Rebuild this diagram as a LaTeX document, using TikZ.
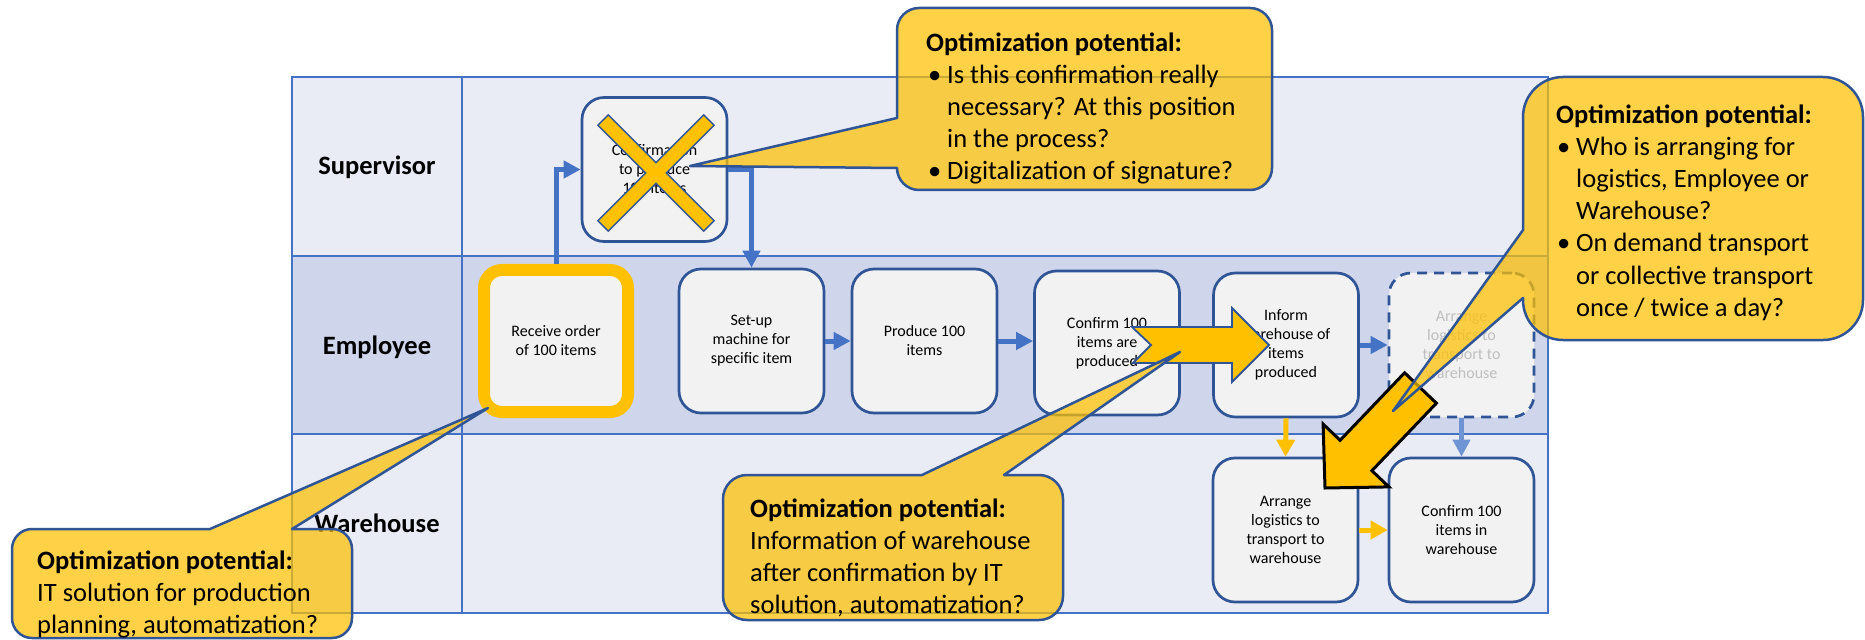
\documentclass[tikz,border=0pt]{standalone}
\usepackage{fontspec}
\setmainfont{Carlito}
\usetikzlibrary{arrows.meta}
\definecolor{lanelight}{HTML}{E9EBF5}
\definecolor{lanedark}{HTML}{CFD5EA}
\definecolor{laneline}{HTML}{4472C4}
\definecolor{boxline}{HTML}{2F5597}
\definecolor{boxfill}{HTML}{F2F2F2}
\definecolor{gold}{HTML}{FFC000}
\definecolor{ghostblue}{HTML}{6F94D3}
\definecolor{ghosttext}{HTML}{BFBFBF}
\begin{document}
\begin{tikzpicture}[x=1bp,y=-1bp,
  lane/.style={draw=laneline, line width=2.5bp},
  lanelabel/.style={font=\fontsize{26.5bp}{32bp}\selectfont\bfseries, anchor=base, inner sep=0},
  proc/.style={draw=boxline, line width=2.7bp, fill=boxfill, rounded corners=22bp,
    minimum width=145bp, minimum height=144bp, align=center, inner sep=2bp,
    font=\fontsize{16bp}{19bp}\selectfont},
  recvbox/.style={proc, draw=gold, line width=12bp, minimum width=144bp, minimum height=142bp, rounded corners=18bp},
  ghostbox/.style={proc, dash pattern=on 10bp off 7bp, text=ghosttext},
  bluearrow/.style={draw=laneline, line width=5bp, -{Triangle[length=17bp,width=17bp]}},
  ghostarrow/.style={draw=ghostblue, line width=5bp, -{Triangle[length=17bp,width=17bp]}},
  yarrow/.style={draw=gold, line width=5bp, -{Triangle[length=17bp,width=18bp]}},
  xbar/.style={minimum width=148bp, minimum height=13bp, inner sep=0, draw=boxline, line width=3bp, fill=gold},
  xfill/.style={minimum width=148bp, minimum height=13bp, inner sep=0, fill=gold},
  bigarrow/.style={fill=gold, draw=boxline, line width=1.8bp, line join=miter},
  diagarrow/.style={fill=gold, draw=black, line width=3bp, line join=miter},
  callout/.style={draw=boxline, line width=2.5bp, fill=gold, fill opacity=0.72, line join=round},
  ctext/.style={anchor=base west, inner sep=0, font=\fontsize{26.5bp}{32bp}\selectfont},
  ctitle/.style={ctext, font=\fontsize{26.5bp}{32bp}\selectfont\bfseries}
]
\useasboundingbox (0,0) rectangle (1865,640);
\fill[white] (0,0) rectangle (1865,640);

% swimlane table
\fill[lanelight] (292,77) rectangle (1548,256);
\fill[lanedark] (292,256) rectangle (1548,434);
\fill[lanelight] (292,434) rectangle (1548,613);
\draw[lane] (292,77) rectangle (1548,613);
\draw[lane] (292,256) -- (1548,256);
\draw[lane] (292,434) -- (1548,434);
\draw[lane] (462,77) -- (462,613);

\node[lanelabel] (lsup) at (377,175) {Supervisor};
\node[lanelabel] (lemp) at (377,354) {Employee};
\node[lanelabel] (lwh) at (377,532) {Warehouse};

% process boxes
\node[proc] (conf) at (654.5,169.5) {Confirmation\\to produce\\100 items};
\node[recvbox] (recv) at (556,341) {Receive order\\of 100 items};
\node[proc] (setup) at (751.5,341) {Set-up\\machine for\\specific item};
\node[proc] (prod) at (924.5,341) {Produce 100\\items};
\node[proc] (cprod) at (1107,343) {Confirm 100\\items are\\produced};
\node[proc] (inform) at (1286,345) {Inform\\warehouse of\\items\\produced};
\node[ghostbox] (ghost) at (1461.5,345) {Arrange\\logistics to\\transport to\\warehouse};
\node[proc] (arrwh) at (1285.5,530) {Arrange\\logistics to\\transport to\\warehouse};
\node[proc] (confwh) at (1461.5,530) {Confirm 100\\items in\\warehouse};

% connectors
\draw[bluearrow] (recv.north) |- (conf.west);
\draw[bluearrow] (conf.east) -| (setup.north);
\draw[bluearrow] (setup.east) -- (prod.west);
\draw[bluearrow] (prod.east) -- (prod.east -| cprod.west);
\draw[bluearrow] (inform.east) -- (ghost.west);
\draw[yarrow] (inform.south) -- (arrwh.north);
\draw[ghostarrow] (ghost.south) -- (confwh.north);
\draw[yarrow] (arrwh.east) -- (confwh.west);

% cross over confirmation
\node[xbar, rotate=45] (xa) at (656,173) {};
\node[xbar, rotate=-45] (xb) at (656,173) {};
\node[xfill, rotate=45] (xc) at (656,173) {};
\node[xfill, rotate=-45] (xd) at (656,173) {};

% big block arrows
\draw[bigarrow] (1132,327) -- (1232,327) -- (1232,308) -- (1269,345) -- (1232,382)
  -- (1232,363) -- (1133,363) -- (1151,345) -- cycle;
\draw[diagarrow] (1404.6,372.8) -- (1340.1,440.3) -- (1323.1,424.1) -- (1325,488)
  -- (1388.9,486.9) -- (1371.9,470.7) -- (1436.4,403.2) -- cycle;

% callouts
\draw[callout] (690,166) -- (897,118) -- (897,30)
  .. controls (897,17.9) and (906.9,8) .. (919,8) -- (1250,8)
  .. controls (1262.1,8) and (1272,17.9) .. (1272,30) -- (1272,168)
  .. controls (1272,180.1) and (1262.1,190) .. (1250,190) -- (919,190)
  .. controls (906.9,190) and (897,180.1) .. (897,168) -- cycle;
\draw[callout] (1393,411) -- (1523,230) -- (1523,117)
  .. controls (1523,94.9) and (1540.9,77) .. (1563,77) -- (1823,77)
  .. controls (1845.1,77) and (1863,94.9) .. (1863,117) -- (1863,300)
  .. controls (1863,322.1) and (1845.1,340) .. (1823,340) -- (1563,340)
  .. controls (1540.9,340) and (1523,322.1) .. (1523,300) -- (1523,298) -- cycle;
\draw[callout] (488,408) -- (292,529) -- (332,529)
  .. controls (343,529) and (352,538) .. (352,549) -- (352,618)
  .. controls (352,629) and (343,638) .. (332,638) -- (32,638)
  .. controls (21,638) and (12,629) .. (12,618) -- (12,549)
  .. controls (12,538) and (21,529) .. (32,529) -- (210,529) -- cycle;
\draw[callout] (1180,352) -- (1004,475) -- (1039,475)
  .. controls (1052.25,475) and (1063,485.75) .. (1063,499) -- (1063,596)
  .. controls (1063,609.25) and (1052.25,620) .. (1039,620) -- (747,620)
  .. controls (733.75,620) and (723,609.25) .. (723,596) -- (723,499)
  .. controls (723,485.75) and (733.75,475) .. (747,475) -- (922,475) -- cycle;

% callout texts
\node[ctitle] (t1a) at (926,52) {Optimization potential:};
\node[ctext] (t1b) at (928,84) {\makebox[19bp][l]{•}Is this confirmation really};
\node[ctext] (t1c) at (947,116) {necessary? At this position};
\node[ctext] (t1d) at (947,148) {in the process?};
\node[ctext] (t1e) at (928,180) {\makebox[19bp][l]{•}Digitalization of signature?};

\node[ctitle] (t2a) at (1556,124) {Optimization potential:};
\node[ctext] (t2b) at (1557,156) {\makebox[19bp][l]{•}Who is arranging for};
\node[ctext] (t2c) at (1576,188) {logistics, Employee or};
\node[ctext] (t2d) at (1576,220) {Warehouse?};
\node[ctext] (t2e) at (1557,252) {\makebox[19bp][l]{•}On demand transport};
\node[ctext] (t2f) at (1576,284) {or collective transport};
\node[ctext] (t2g) at (1576,316) {once / twice a day?};

\node[ctitle] (t3a) at (37,569) {Optimization potential:};
\node[ctext] (t3b) at (37,601) {IT solution for production};
\node[ctext] (t3c) at (37,633) {planning, automatization?};

\node[ctitle] (t4a) at (750,517) {Optimization potential:};
\node[ctext] (t4b) at (750,549) {Information of warehouse};
\node[ctext] (t4c) at (750,581) {after confirmation by IT};
\node[ctext] (t4d) at (750,613) {solution, automatization?};
\end{tikzpicture}
\end{document}
